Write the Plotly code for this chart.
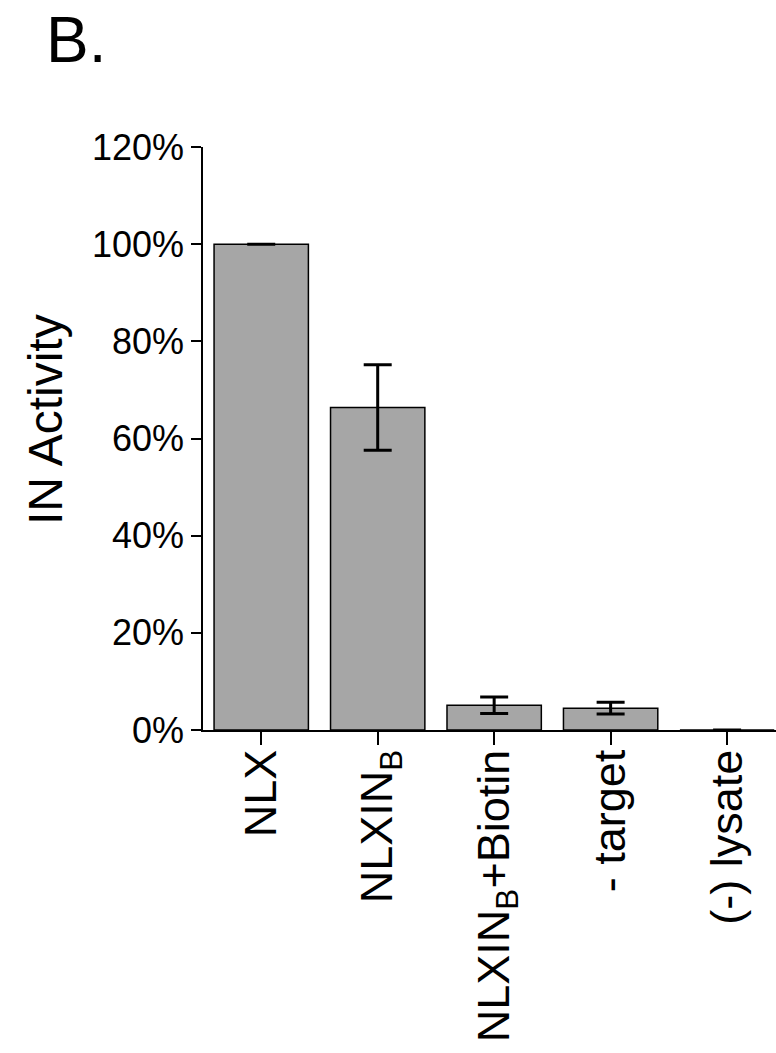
import plotly.graph_objects as go

categories = ["NLX", "NLXIN<sub>B</sub>", "NLXIN<sub>B</sub>+Biotin", "- target", "(-) lysate"]
activity = [1.00, 0.664, 0.051, 0.045, 0.0]
errors = [0.0, 0.088, 0.017, 0.012, 0.0]
y_ticks = [0, 0.2, 0.4, 0.6, 0.8, 1.0, 1.2]
y_tick_labels = ["0%", "20%", "40%", "60%", "80%", "100%", "120%"]

fig = go.Figure()
fig.add_trace(go.Bar(
    x=list(range(len(categories))),
    y=activity,
    marker=dict(color="#a6a6a6", line=dict(color="black", width=1.5)),
    error_y=dict(type="data", array=errors, visible=True, color="black",
                 thickness=3, width=14),
    cliponaxis=False,
    showlegend=False,
))

PW, PH = 573, 583
fig.update_layout(
    width=776, height=1053,
    margin=dict(l=203, r=0, t=147, b=323),
    plot_bgcolor="white", paper_bgcolor="white",
    bargap=0.19,
    xaxis=dict(
        range=[-0.5, 4.42],
        tickmode="array",
        tickvals=list(range(len(categories))),
        ticktext=categories,
        tickangle=-90,
        tickson="boundaries",
        ticks="outside", ticklen=13, tickwidth=1.5, tickcolor="black",
        ticklabelstandoff=-13,
        showline=True, linecolor="black", linewidth=1.5,
        showgrid=False, zeroline=False,
        tickfont=dict(family="Liberation Sans, Arial", size=45, color="black"),
    ),
    yaxis=dict(
        range=[0, 1.2],
        tickmode="array",
        tickvals=y_ticks,
        ticktext=y_tick_labels,
        ticks="outside", ticklen=10, tickwidth=1.5, tickcolor="black",
        showline=True, linecolor="black", linewidth=1.5,
        showgrid=False, zeroline=False,
        tickfont=dict(family="Liberation Sans, Arial", size=36, color="black"),
    ),
    annotations=[
        dict(
            text="B.", xref="paper", yref="paper",
            x=(44 - 203) / PW, y=1 + (147 - 40) / PH,
            xanchor="left", yanchor="middle", showarrow=False,
            font=dict(family="Liberation Sans, Arial", size=64, color="black"),
        ),
        dict(
            text="IN Activity", xref="paper", yref="paper",
            x=(46 - 203) / PW, y=(730 - 420) / PH,
            xanchor="center", yanchor="middle", showarrow=False, textangle=-90,
            font=dict(family="Liberation Sans, Arial", size=48, color="black"),
        ),
    ],
)

fig.write_html("out.html", config={"displayModeBar": False},
               post_script="document.body.style.margin='0';")
